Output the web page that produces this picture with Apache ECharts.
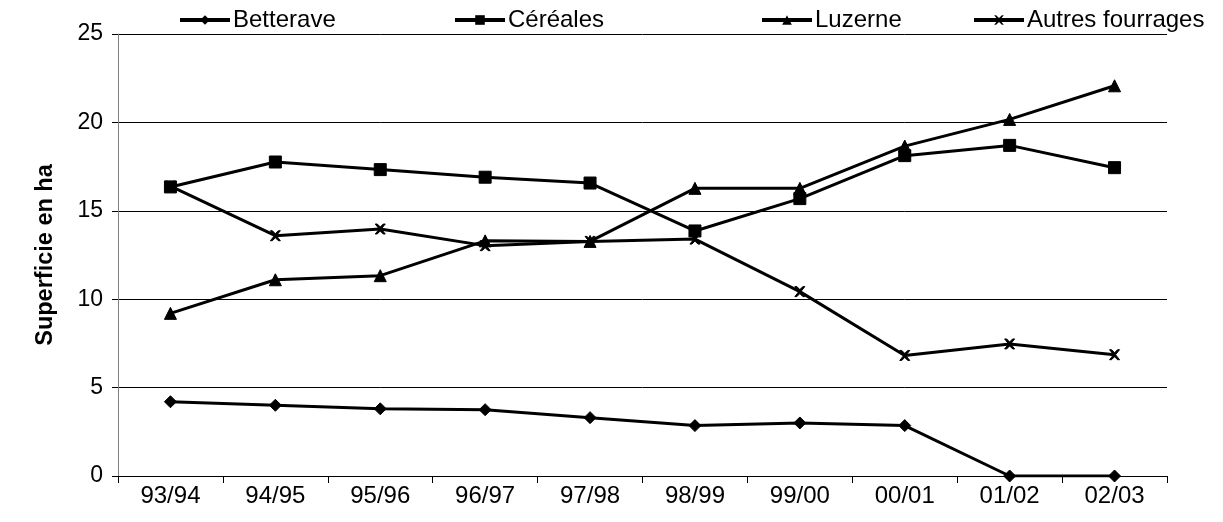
<!DOCTYPE html>
<html><head><meta charset="utf-8">
<script src="https://cdn.jsdelivr.net/npm/echarts@6/dist/echarts.min.js"></script>
<style>html,body{margin:0;padding:0;background:#fff}#c{width:1223px;height:522px}</style>
</head><body><div id="c"></div>
<script>
const categories = ['93/94','94/95','95/96','96/97','97/98','98/99','99/00','00/01','01/02','02/03'];
const betterave = [4.2, 4.0, 3.8, 3.75, 3.3, 2.85, 3.0, 2.85, 0, 0];
const cereales = [16.35, 17.76, 17.33, 16.9, 16.57, 13.86, 15.69, 18.12, 18.7, 17.44];
const luzerne = [9.2, 11.1, 11.33, 13.3, 13.27, 16.27, 16.27, 18.66, 20.17, 22.07];
const autresFourrages = [16.4, 13.59, 13.97, 13.03, 13.27, 13.4, 10.43, 6.82, 7.47, 6.86];
const seriesNames = ['Betterave','Céréales','Luzerne','Autres fourrages'];

const xPath = 'path://M0,0 L2,0 L5,3 L8,0 L10,0 L6,5 L10,10 L8,10 L5,7 L2,10 L0,10 L4,5 Z';
const symbols = ['diamond','rect','triangle', xPath];
const sizes = [12, 12, 12, 10];
const dataSets = [betterave, cereales, luzerne, autresFourrages];
const font = 'Liberation Sans, Arial, sans-serif';

const legendLefts = [173, 448, 755, 967];
const chart = echarts.init(document.getElementById('c'), null, {renderer:'canvas'});
chart.setOption({
  animation: false,
  backgroundColor: '#fff',
  grid: {left: 118, right: 56, top: 34, bottom: 46},
  legend: seriesNames.map((n, i) => ({
    data: [n], left: legendLefts[i], top: 3, itemWidth: 50, itemHeight: 12, itemGap: 0,
    lineStyle: {width: 4, color: '#000'},
    textStyle: {fontFamily: font, fontSize: 24, color: '#000', padding: [0,0,0,-2]}
  })),
  xAxis: {
    type: 'category', data: categories, boundaryGap: true,
    axisLine: {lineStyle: {color: '#000', width: 1}},
    axisTick: {show: true, length: 7, lineStyle: {color: '#000'}},
    axisLabel: {fontFamily: font, fontSize: 24, color: '#000', margin: 8}
  },
  yAxis: {
    type: 'value', min: 0, max: 25, interval: 5,
    name: 'Superficie en ha', nameLocation: 'middle', nameGap: 60,
    nameTextStyle: {fontFamily: font, fontSize: 23.5, fontWeight: 'bold', color: '#000'},
    axisLine: {show: true, lineStyle: {color: '#808080'}},
    axisTick: {show: true, length: 6, lineStyle: {color: '#000'}},
    axisLabel: {fontFamily: font, fontSize: 23, color: '#000', margin: 15},
    splitLine: {lineStyle: {color: '#000', width: 1}}
  },
  series: seriesNames.map((n, i) => ({
    name: n, type: 'line', data: dataSets[i],
    symbol: symbols[i], symbolSize: sizes[i], showAllSymbol: true,
    lineStyle: {color: '#000', width: 3},
    itemStyle: {color: '#000', borderColor: '#000'},
    z: 3 + i
  }))
});
</script></body></html>
